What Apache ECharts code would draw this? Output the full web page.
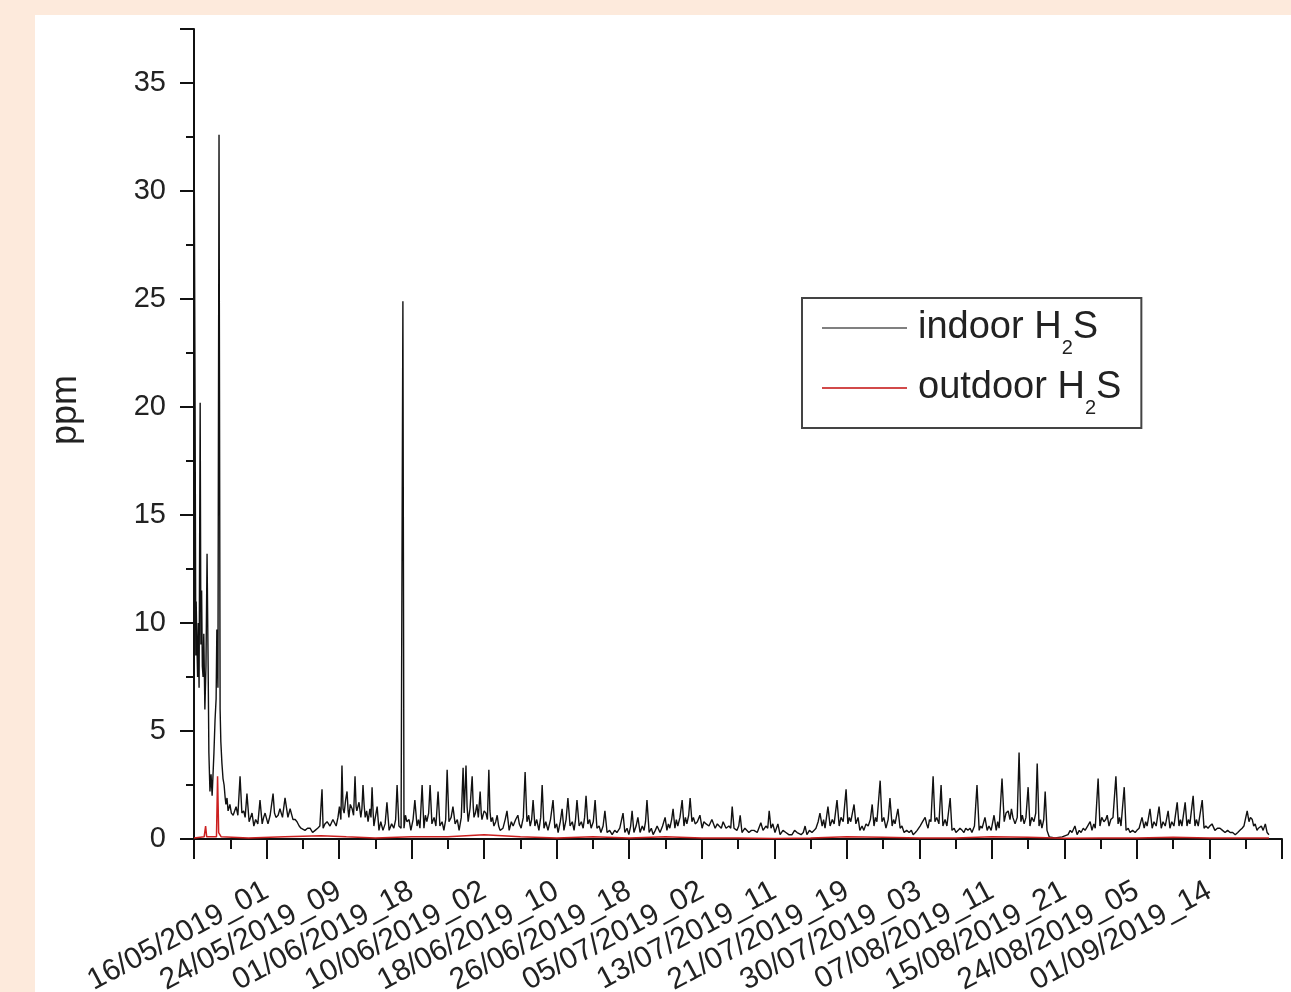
<!DOCTYPE html>
<html>
<head>
<meta charset="utf-8">
<script src="https://cdn.jsdelivr.net/npm/echarts@6.0.0/dist/echarts.min.js"></script>
<style>
  body { margin: 0; }
  #page { position: relative; width: 1291px; height: 992px; background: #fdeadc; overflow: hidden; }
  #main { position: absolute; left: 35px; top: 15px; width: 1256px; height: 977px; background: #fff; }
</style>
</head>
<body>
<div id="page"><div id="main"></div></div>
<script>
// x = hour index of the record, tick every 200 records
var tickLabels = ['16/05/2019_01', '24/05/2019_09', '01/06/2019_18', '10/06/2019_02', '18/06/2019_10',
    '26/06/2019_18', '05/07/2019_02', '13/07/2019_11', '21/07/2019_19', '30/07/2019_03',
    '07/08/2019_11', '15/08/2019_21', '24/08/2019_05', '01/09/2019_14'];

var indoor = [
    [0, 34.5], [3, 20], [5, 8.5], [6, 11], [8, 9], [10, 7.5], [12, 10], [14, 7], [17, 20.2], [19, 9],
    [21, 11.5], [23, 8], [25, 7.5], [27, 9.5], [30, 6], [33, 8], [36, 13.2], [39, 8], [41, 4], [44, 2.2],
    [47, 3], [50, 2.0], [53, 3.2], [55, 4], [58, 5.5], [61, 6.5], [63, 9.7], [66, 7], [69, 32.6], [72, 6],
    [74, 4.5], [77, 3.5], [80, 2.8], [83, 2.5], [86, 1.9], [88, 1.6], [91, 1.9], [94, 1.3], [99, 1.6], [103, 1.2],
    [108, 1.1], [112, 1.3], [116, 1.5], [121, 1.1], [127, 2.9], [132, 1.2], [137, 1.3], [141, 1.0], [146, 2.1], [152, 0.8],
    [156, 1.0], [160, 1.2], [165, 0.6], [170, 0.9], [176, 0.7], [182, 1.8], [188, 0.7], [192, 1.0], [196, 1.2], [204, 0.7],
    [210, 1.1], [218, 2.1], [222, 1.2], [226, 1.0], [232, 1.1], [237, 1.4], [244, 1.0], [251, 1.9], [259, 1.0], [265, 1.4],
    [273, 0.9], [279, 0.9], [284, 0.8], [290, 0.6], [295, 0.5], [306, 0.4], [313, 0.5], [320, 0.5], [327, 0.3], [334, 0.4],
    [341, 0.5], [347, 0.6], [353, 2.3], [356, 0.5], [361, 0.7], [367, 0.8], [375, 0.6], [383, 0.9], [392, 0.6], [397, 1.0],
    [401, 1.5], [405, 0.9], [408, 3.4], [411, 1.4], [414, 1.2], [418, 1.8], [422, 2.2], [425, 1.3], [427, 1.0], [431, 1.6],
    [436, 1.4], [440, 1.1], [444, 2.9], [447, 1.5], [449, 1.3], [455, 1.7], [460, 1.0], [463, 1.4], [466, 2.5], [469, 1.6],
    [472, 1.0], [476, 1.3], [480, 0.8], [485, 1.4], [488, 1.0], [491, 2.4], [494, 1.2], [496, 0.6], [500, 1.0], [505, 1.5],
    [510, 0.4], [515, 0.8], [521, 0.4], [527, 0.7], [532, 1.7], [538, 0.4], [545, 0.7], [551, 0.5], [556, 0.9], [560, 2.5],
    [565, 0.6], [571, 0.5], [576, 24.9], [579, 0.5], [583, 1.1], [587, 0.8], [593, 0.9], [598, 0.4], [604, 0.9], [609, 1.8],
    [615, 0.6], [619, 0.9], [623, 0.5], [629, 2.5], [634, 0.5], [638, 1.1], [642, 0.8], [647, 1.2], [651, 2.5], [656, 0.7],
    [662, 1.0], [667, 0.6], [673, 2.2], [678, 0.6], [684, 0.8], [689, 0.4], [694, 0.9], [698, 3.2], [703, 0.8], [709, 1.0],
    [714, 1.5], [720, 0.7], [726, 0.9], [731, 0.4], [737, 1.0], [742, 3.3], [745, 1.2], [750, 3.4], [753, 1.5], [756, 0.8],
    [761, 1.4], [767, 2.9], [770, 1.5], [772, 1.0], [776, 1.2], [780, 1.6], [784, 1.0], [789, 2.2], [792, 1.2], [794, 0.9],
    [800, 1.3], [805, 1.2], [809, 0.9], [813, 3.2], [816, 1.3], [819, 0.8], [823, 1.0], [827, 0.6], [832, 0.8], [836, 1.1],
    [840, 0.6], [844, 0.4], [852, 0.5], [858, 0.9], [863, 1.3], [869, 0.4], [875, 0.8], [880, 0.6], [887, 0.9], [893, 1.1],
    [897, 0.7], [902, 0.5], [908, 1.0], [913, 3.1], [918, 0.8], [923, 1.1], [927, 0.6], [931, 0.9], [935, 1.8], [940, 0.6],
    [945, 0.9], [951, 0.4], [956, 1.0], [960, 2.5], [965, 0.5], [970, 0.8], [976, 0.4], [983, 0.9], [990, 1.8], [995, 0.5],
    [1000, 0.7], [1004, 0.3], [1010, 0.8], [1015, 1.4], [1020, 0.4], [1026, 0.9], [1031, 1.9], [1037, 0.6], [1043, 0.8], [1048, 0.4],
    [1052, 0.9], [1056, 1.8], [1062, 0.6], [1068, 0.8], [1073, 0.5], [1077, 1.0], [1081, 2.0], [1086, 0.7], [1091, 0.9], [1095, 0.5],
    [1101, 0.8], [1106, 1.8], [1111, 0.5], [1117, 0.6], [1122, 0.3], [1128, 0.6], [1133, 1.3], [1139, 0.3], [1146, 0.4], [1153, 0.2],
    [1160, 0.4], [1166, 0.3], [1174, 0.5], [1183, 1.2], [1188, 0.3], [1194, 0.5], [1199, 0.2], [1204, 0.6], [1208, 1.3], [1213, 0.3],
    [1219, 0.6], [1224, 1.0], [1230, 0.3], [1236, 0.6], [1241, 0.4], [1245, 0.8], [1249, 1.8], [1255, 0.3], [1261, 0.5], [1266, 0.2],
    [1272, 0.4], [1277, 0.6], [1285, 0.3], [1292, 0.6], [1299, 1.0], [1304, 0.4], [1308, 0.7], [1312, 0.5], [1317, 0.9], [1321, 1.4],
    [1326, 0.5], [1330, 0.9], [1334, 0.6], [1340, 1.0], [1346, 1.8], [1351, 0.6], [1355, 1.0], [1359, 0.7], [1364, 1.1], [1368, 1.9],
    [1373, 0.8], [1377, 1.0], [1382, 0.7], [1388, 0.8], [1395, 1.1], [1401, 0.5], [1406, 0.8], [1412, 0.7], [1420, 0.6], [1428, 0.9],
    [1437, 0.5], [1443, 0.7], [1448, 0.6], [1454, 0.5], [1459, 0.8], [1467, 0.5], [1475, 0.6], [1480, 0.5], [1484, 1.5], [1489, 0.5],
    [1497, 0.4], [1502, 0.6], [1506, 1.1], [1511, 0.3], [1519, 0.5], [1530, 0.3], [1537, 0.4], [1544, 0.4], [1553, 0.3], [1563, 0.75],
    [1569, 0.4], [1577, 0.6], [1582, 0.5], [1586, 1.3], [1591, 0.5], [1596, 0.7], [1602, 0.3], [1610, 0.7], [1616, 0.2], [1624, 0.4],
    [1632, 0.3], [1640, 0.2], [1649, 0.2], [1656, 0.4], [1663, 0.3], [1674, 0.2], [1680, 0.3], [1685, 0.6], [1690, 0.2], [1697, 0.4],
    [1704, 0.3], [1710, 0.4], [1715, 0.5], [1721, 0.8], [1726, 1.2], [1732, 0.6], [1736, 0.9], [1740, 0.5], [1748, 1.5], [1754, 0.6],
    [1760, 0.9], [1765, 0.7], [1773, 1.8], [1779, 0.6], [1784, 1.0], [1790, 0.8], [1798, 2.3], [1803, 0.7], [1807, 1.0], [1811, 0.8],
    [1820, 1.6], [1825, 0.7], [1831, 1.0], [1836, 0.4], [1842, 0.6], [1847, 0.4], [1853, 0.7], [1859, 0.6], [1865, 0.9], [1870, 1.6],
    [1875, 0.6], [1879, 1.0], [1883, 0.8], [1892, 2.7], [1897, 0.8], [1902, 1.0], [1908, 0.5], [1914, 0.9], [1919, 1.9], [1925, 0.6],
    [1929, 0.9], [1933, 0.7], [1941, 1.4], [1947, 0.5], [1952, 0.6], [1958, 0.3], [1965, 0.4], [1972, 0.3], [1978, 0.4], [1983, 0.2],
    [1989, 0.3], [1994, 0.4], [2002, 0.6], [2009, 0.8], [2016, 1.0], [2020, 0.7], [2024, 0.5], [2028, 0.9], [2032, 0.8], [2038, 2.9],
    [2043, 0.8], [2048, 1.0], [2054, 0.7], [2060, 2.5], [2065, 0.6], [2071, 0.9], [2076, 0.6], [2085, 1.9], [2090, 0.4], [2096, 0.5],
    [2101, 0.3], [2107, 0.4], [2112, 0.5], [2118, 0.4], [2123, 0.3], [2128, 0.5], [2134, 0.4], [2140, 0.5], [2145, 0.3], [2152, 0.6],
    [2159, 2.5], [2165, 0.4], [2169, 0.6], [2173, 0.5], [2181, 1.0], [2187, 0.4], [2192, 0.6], [2198, 0.4], [2206, 1.1], [2212, 0.4],
    [2216, 0.8], [2220, 0.5], [2228, 2.8], [2234, 0.8], [2239, 1.2], [2245, 1.3], [2250, 0.9], [2254, 1.4], [2258, 1.0], [2264, 0.7],
    [2270, 1.0], [2275, 4.0], [2280, 0.8], [2284, 1.1], [2289, 0.7], [2294, 1.0], [2300, 2.4], [2305, 0.6], [2310, 1.0], [2316, 0.8],
    [2321, 1.2], [2325, 3.5], [2330, 0.6], [2334, 0.9], [2338, 0.5], [2343, 0.9], [2347, 2.2], [2352, 0.4], [2358, 0.1], [2374, 0.05],
    [2394, 0.1], [2410, 0.2], [2416, 0.4], [2421, 0.3], [2429, 0.6], [2435, 0.2], [2441, 0.4], [2446, 0.3], [2452, 0.5], [2457, 0.4],
    [2464, 0.6], [2471, 0.8], [2476, 0.4], [2481, 0.7], [2485, 0.5], [2493, 2.8], [2498, 0.6], [2503, 1.0], [2509, 0.8], [2514, 0.9],
    [2518, 1.1], [2523, 0.6], [2528, 0.9], [2534, 1.0], [2542, 2.9], [2548, 0.7], [2552, 1.0], [2556, 0.6], [2565, 2.4], [2570, 0.4],
    [2576, 0.5], [2581, 0.3], [2588, 0.4], [2595, 0.3], [2600, 0.4], [2606, 0.5], [2614, 1.0], [2620, 0.5], [2624, 0.8], [2628, 0.6],
    [2636, 1.4], [2642, 0.5], [2647, 0.8], [2653, 0.6], [2661, 1.5], [2667, 0.5], [2672, 0.8], [2678, 0.6], [2686, 1.3], [2691, 0.5],
    [2696, 0.8], [2702, 0.6], [2711, 1.7], [2716, 0.6], [2720, 0.9], [2724, 0.6], [2733, 1.7], [2738, 0.6], [2742, 0.9], [2746, 0.7],
    [2755, 2.0], [2760, 0.6], [2764, 0.9], [2769, 0.6], [2780, 1.8], [2785, 0.5], [2790, 0.6], [2796, 0.5], [2801, 0.6], [2807, 0.7],
    [2815, 0.4], [2822, 0.5], [2829, 0.5], [2836, 0.4], [2843, 0.3], [2850, 0.4], [2857, 0.3], [2864, 0.3], [2871, 0.2], [2878, 0.3],
    [2884, 0.4], [2890, 0.5], [2895, 0.6], [2904, 1.3], [2909, 0.8], [2913, 1.0], [2918, 0.9], [2922, 0.6], [2926, 0.7], [2931, 0.4],
    [2935, 0.5], [2943, 0.6], [2948, 0.4], [2954, 0.7], [2959, 0.3], [2964, 0.2]
];

var outdoor = [
    [0, 0.05], [28, 0.1], [32, 0.6], [35, 0.1], [62, 0.1], [65, 2.9], [68, 0.3], [75, 0.1], [150, 0.05], [250, 0.1],
    [350, 0.15], [420, 0.1], [500, 0.05], [600, 0.1], [700, 0.1], [800, 0.2], [900, 0.1], [1000, 0.05], [1100, 0.1], [1200, 0.05],
    [1300, 0.1], [1400, 0.05], [1500, 0.05], [1600, 0.02], [1700, 0.05], [1800, 0.1], [1900, 0.08], [2000, 0.05], [2100, 0.05], [2200, 0.1],
    [2300, 0.08], [2400, 0.03], [2500, 0.05], [2600, 0.05], [2700, 0.08], [2800, 0.05], [2900, 0.05], [2964, 0.05]
];

var font = 'Liberation Sans, Arial, sans-serif';
var myChart = echarts.init(document.getElementById('main'));

myChart.setOption({
    animation: false,
    textStyle: { fontFamily: font },
    grid: { left: 159, right: 9, top: 14, bottom: 153, outerBoundsMode: 'none' },
    legend: {
        orient: 'vertical',
        left: 767,
        top: 283,
        padding: [0, 20, 10, 20],
        itemGap: 0,
        itemWidth: 85,
        itemHeight: 2,
        icon: 'rect',
        borderColor: '#444',
        borderWidth: 2,
        data: [
            { name: 'indoor', itemStyle: { color: '#808080' } },
            { name: 'outdoor', itemStyle: { color: '#d24a4a' } }
        ],
        formatter: function (name) {
            return '{a|' + name + ' H}{s|2}{a|S}';
        },
        textStyle: {
            padding: [0, 0, 0, 6],
            rich: {
                a: { fontSize: 38, lineHeight: 60, color: '#222', fontFamily: font },
                s: { fontSize: 20, lineHeight: 20, padding: [40, 0, 0, 0], color: '#222', fontFamily: font }
            }
        }
    },
    xAxis: {
        type: 'value',
        min: 0,
        max: 3000,
        interval: 200,
        axisLine: { lineStyle: { color: '#111', width: 2 } },
        axisTick: { length: 20, lineStyle: { color: '#111', width: 2 } },
        minorTick: { show: true, splitNumber: 2, length: 10, lineStyle: { color: '#111', width: 2 } },
        splitLine: { show: false },
        axisLabel: {
            rotate: 28,
            margin: 50,
            fontSize: 30,
            color: '#222',
            formatter: function (v) {
                var i = v / 200 - 1;
                return tickLabels[i] || '';
            }
        }
    },
    yAxis: {
        type: 'value',
        min: 0,
        max: 37.5,
        interval: 5,
        name: 'ppm',
        nameLocation: 'middle',
        nameRotate: 90,
        nameGap: 110,
        nameTextStyle: { fontSize: 36, color: '#222', padding: [0, 0, 0, 48] },
        axisLine: { lineStyle: { color: '#111', width: 2 } },
        axisTick: { length: 14, lineStyle: { color: '#111', width: 2 } },
        minorTick: { show: true, splitNumber: 2, length: 8, lineStyle: { color: '#111', width: 2 } },
        splitLine: { show: false },
        axisLabel: {
            margin: 28,
            fontSize: 29,
            color: '#222',
            formatter: function (v) {
                return v % 5 === 0 ? v : '';
            }
        }
    },
    series: [
        {
            name: 'indoor',
            type: 'line',
            data: indoor,
            symbol: 'none',
            sampling: 'none',
            lineStyle: { color: '#111', width: 1.4 },
            z: 3
        },
        {
            name: 'outdoor',
            type: 'line',
            data: outdoor,
            symbol: 'none',
            lineStyle: { color: '#cc2020', width: 1.5 },
            z: 4
        }
    ]
});
</script>
</body>
</html>
